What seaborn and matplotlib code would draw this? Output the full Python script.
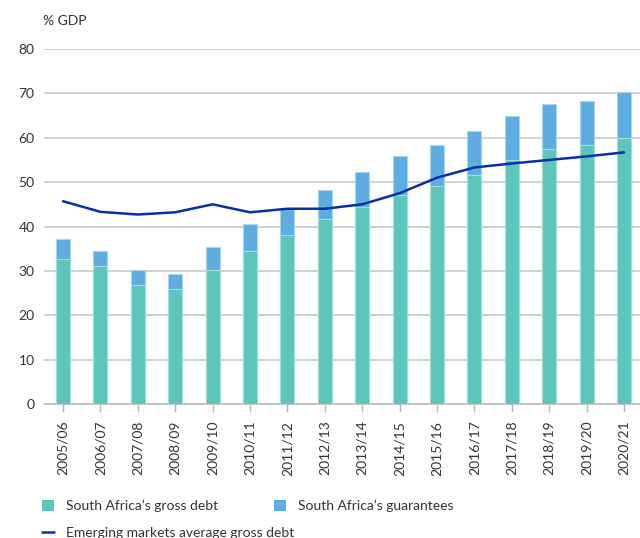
import matplotlib
matplotlib.use("Agg")
import matplotlib.pyplot as plt
import seaborn as sns
import numpy as np
import pandas as pd
from matplotlib.patches import Patch
from matplotlib.lines import Line2D

years = ["2005/06", "2006/07", "2007/08", "2008/09", "2009/10", "2010/11", "2011/12",
         "2012/13", "2013/14", "2014/15", "2015/16", "2016/17", "2017/18", "2018/19",
         "2019/20", "2020/21"]
gross_debt = [32.7, 31.0, 26.8, 25.9, 30.2, 34.5, 38.1, 41.6, 44.5, 47.2, 49.2, 51.5,
              55.0, 57.5, 58.3, 60.0]
guarantees = [4.5, 3.5, 3.4, 3.3, 5.2, 6.1, 5.9, 6.6, 7.8, 8.6, 9.1, 10.1, 10.0, 10.0,
              10.0, 10.2]
em_average = [45.7, 43.3, 42.7, 43.2, 45.0, 43.2, 44.0, 44.0, 45.0, 47.5, 51.0, 53.3,
              54.2, 55.0, 55.8, 56.7]
y_ticks = [0, 10, 20, 30, 40, 50, 60, 70, 80]

GREEN = "#5cc5bc"
BLUE = "#5dade0"
NAVY = "#0a2ea6"
TEXT = "#333333"
GRID = "#c9c9c9"
FS = 10

sns.set_theme(style="white")
plt.rcParams["font.family"] = ["Lato", "DejaVu Sans"]

df = pd.DataFrame({
    "year": years,
    "gross": gross_debt,
    "total": np.array(gross_debt) + np.array(guarantees),
    "pos": np.arange(len(years)),
    "em": em_average,
})

fig = plt.figure(figsize=(6.4, 5.38), dpi=100)
ax = fig.add_axes([44.3 / 640, 1 - 404 / 538, 598.4 / 640, 355 / 538])

sns.barplot(data=df, x="year", y="total", color=BLUE, saturation=1, width=0.37,
            edgecolor="#a9d3ef", linewidth=0.8, ax=ax, zorder=2)
sns.barplot(data=df, x="year", y="gross", color=GREEN, saturation=1, width=0.37,
            edgecolor="#a3e0da", linewidth=0.8, ax=ax, zorder=3)
sns.lineplot(data=df, x="pos", y="em", color=NAVY, linewidth=1.8, ax=ax, zorder=4)

ax.set_xlim(-0.5, len(years) - 0.5)
ax.set_ylim(0, 80)
ax.set_yticks(y_ticks)
ax.set_xlabel("")
ax.set_ylabel("")
ax.set_xticks(range(len(years)))
ax.set_xticklabels(years, rotation=90, fontsize=FS, color=TEXT)
ax.tick_params(axis="y", length=0, pad=7, labelsize=FS, labelcolor=TEXT)
ax.tick_params(axis="x", length=6, width=1, color="#b5b5b5", pad=6, bottom=True)
ax.yaxis.grid(True, color=GRID, linewidth=1.2, zorder=0)
ax.set_axisbelow(True)
for s in ["top", "right", "left"]:
    ax.spines[s].set_visible(False)
ax.spines["bottom"].set_color("#bdbdbd")
ax.spines["bottom"].set_linewidth(1.2)

fig.text(43 / 640, 1 - 21 / 538, "% GDP", fontsize=FS, color=TEXT, va="center", ha="left")

h1 = [Patch(facecolor=GREEN, edgecolor="none", label="South Africa\u2019s gross debt"),
      Patch(facecolor=BLUE, edgecolor="none", label="South Africa\u2019s guarantees")]
leg1 = fig.legend(handles=h1, loc="center left", bbox_to_anchor=(36 / 640, 1 - 506 / 538),
                  ncol=2, frameon=False, fontsize=FS, handlelength=0.9, handleheight=0.9,
                  handletextpad=0.85, columnspacing=4.0, labelcolor=TEXT, borderaxespad=0)
h2 = [Line2D([0], [0], color=NAVY, linewidth=1.8, label="Emerging markets average gross debt")]
leg2 = fig.legend(handles=h2, loc="center left", bbox_to_anchor=(36 / 640, 1 - 533 / 538),
                  frameon=False, fontsize=FS, handlelength=0.9, handletextpad=0.85,
                  labelcolor=TEXT, borderaxespad=0)

fig.savefig("out.png", dpi=100)
